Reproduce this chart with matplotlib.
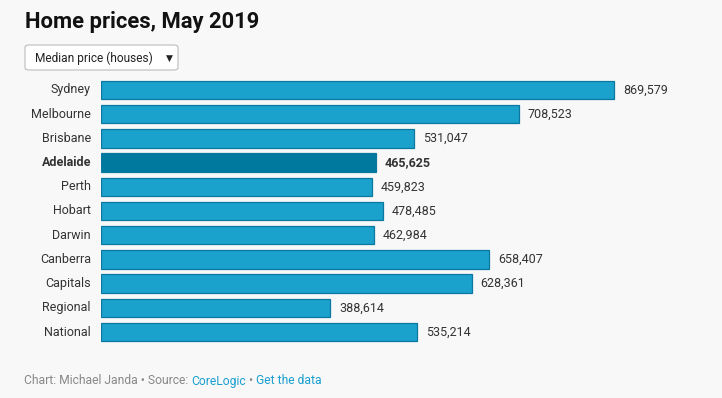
import matplotlib.pyplot as plt
from matplotlib.patches import FancyBboxPatch

cities = ["Sydney", "Melbourne", "Brisbane", "Adelaide", "Perth", "Hobart",
          "Darwin", "Canberra", "Capitals", "Regional", "National"]
prices = [869579, 708523, 531047, 465625, 459823, 478485,
          462984, 658407, 628361, 388614, 535214]
highlight = "Adelaide"

plt.rcParams['font.family'] = ['Roboto', 'DejaVu Sans']
bg = '#f8f8f8'

fig = plt.figure(figsize=(7.22, 3.98), dpi=100, facecolor=bg)
W, H = 722, 398

# axes placed in pixel terms
left, right, top, bottom = 101, 691, 77.9, 344.1
ax = fig.add_axes([left / W, 1 - bottom / H, (right - left) / W, (bottom - top) / H])
ax.set_facecolor(bg)

ypos = list(range(len(cities)))
colors = ['#00799f' if c == highlight else '#1aa1cc' for c in cities]
ax.barh(ypos, prices, height=0.76, color=colors, edgecolor='#0b78a0', linewidth=0.9)
ax.set_xlim(0, 1.0e6)
ax.set_ylim(len(cities) - 0.5, -0.5)

for y, c, v in zip(ypos, cities, prices):
    w = 'bold' if c == highlight else 'normal'
    ax.text(v + 1.5e4, y, f"{v:,}", va='center', ha='left', fontsize=9,
            color='#333333', fontweight=w)
    ax.text(-0.017e6, y, c, va='center', ha='right', fontsize=9,
            color='#333333', fontweight=w)

ax.set_xticks([])
ax.set_yticks([])
for s in ax.spines.values():
    s.set_visible(False)

# title
fig.text(25 / W, 1 - 22 / H, "Home prices, May 2019", fontsize=15.8, fontweight='bold',
         color='#111111', va='center', ha='left')

# dropdown box
box = FancyBboxPatch((25 / W, 1 - 70 / H), 153 / W, 25 / H,
                     boxstyle="round,pad=0,rounding_size=0.006",
                     transform=fig.transFigure, facecolor='white',
                     edgecolor='#bbbbbb', linewidth=0.8)
fig.patches.append(box)
fig.text(35 / W, 1 - 58 / H, "Median price (houses)", fontsize=8.6, color='#222222',
         va='center', ha='left')
fig.text(169 / W, 1 - 58 / H, "▼", fontsize=6.5, color='#222222',
         va='center', ha='center', family=['DejaVu Sans'])

# footer: measure each prefix (with a sentinel char) so spaces keep normal width
parts = [("Chart: Michael Janda • Source: ", '#888888'), ("CoreLogic", '#1a9fd0'),
         (" • ", '#888888'), ("Get the data", '#1a9fd0')]
fig.canvas.draw()
r = fig.canvas.get_renderer()


def text_w(s):
    t = fig.text(0, 0, s, fontsize=8.7)
    wd = t.get_window_extent(renderer=r).width
    t.remove()
    return wd


x0 = 24
sentinel = text_w("|")
prefix = ""
for txt, col in parts:
    off = text_w(prefix + "|") - sentinel if prefix else 0
    fig.text((x0 + off) / W, 1 - 381 / H, txt, fontsize=8.7, color=col,
             va='center', ha='left')
    prefix += txt

fig.savefig("out.png", dpi=100, facecolor=bg)
